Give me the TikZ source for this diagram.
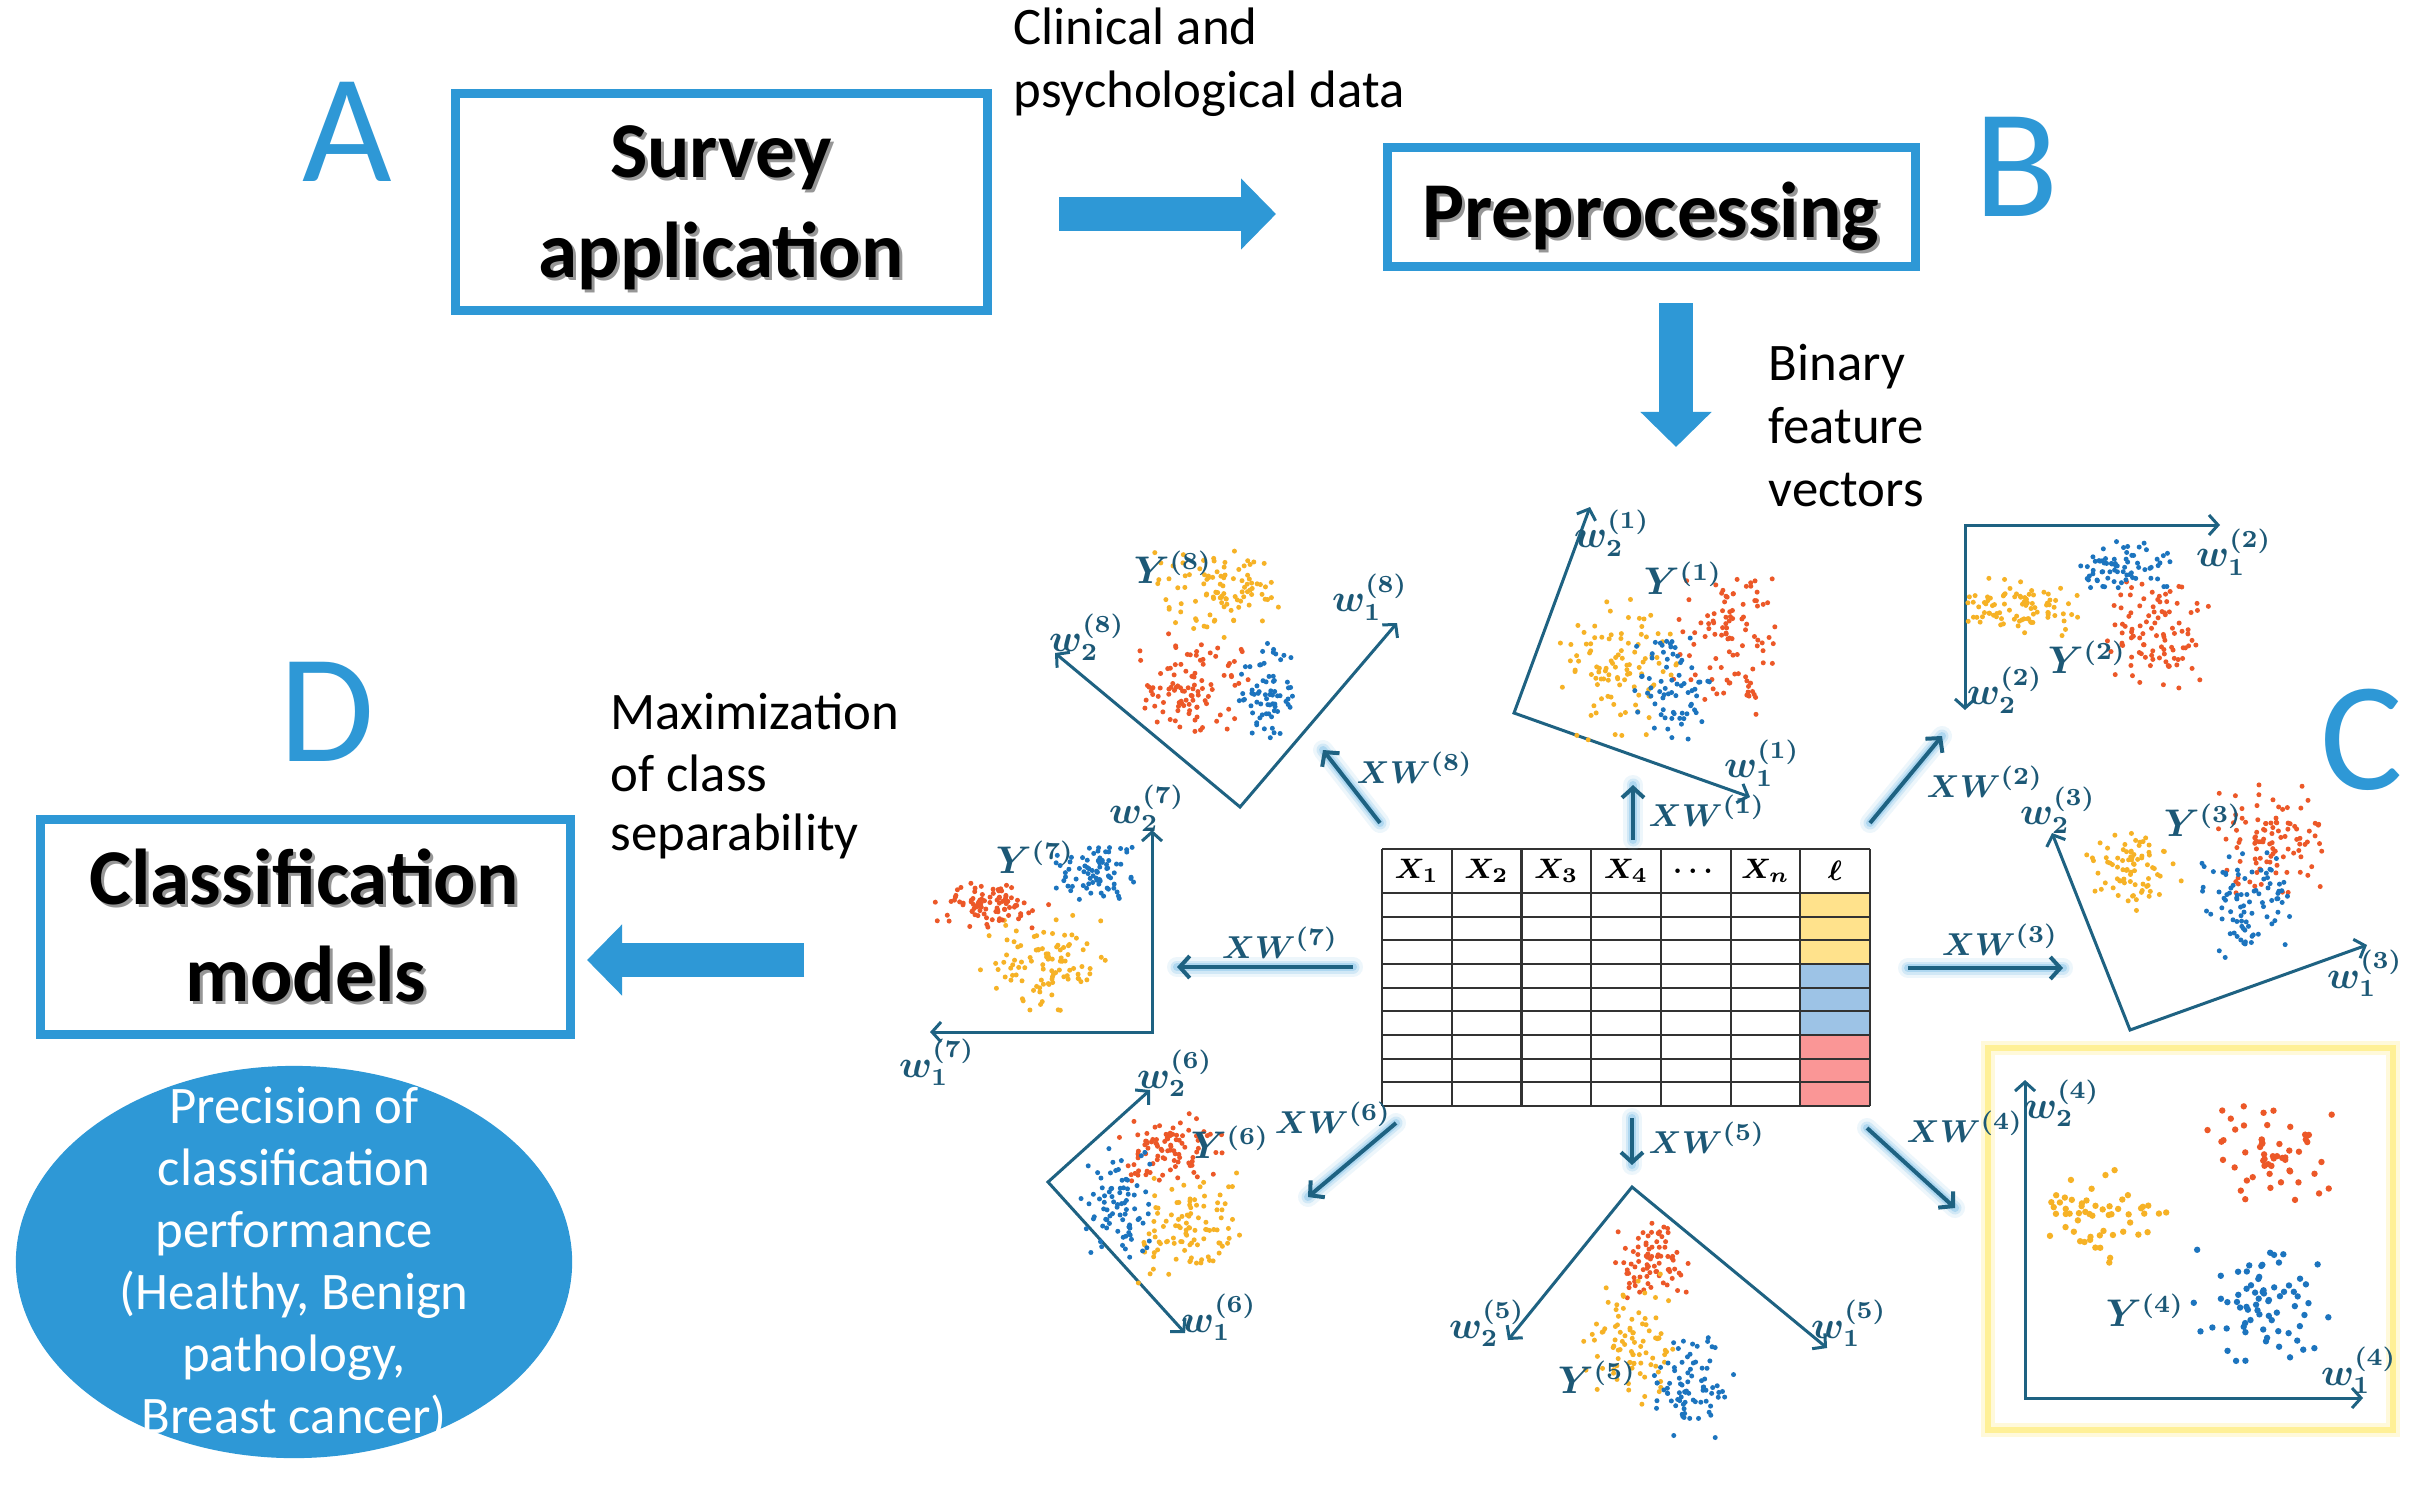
\documentclass[tikz,border=0pt]{standalone}
\usepackage{fontspec}
\setmainfont{Carlito}
\usepackage{amsmath}
\usetikzlibrary{arrows.meta,shapes.geometric,calc}
\definecolor{boxblue}{RGB}{46,152,214}
\definecolor{axcol}{RGB}{30,98,130}
\definecolor{labcol}{RGB}{28,88,118}
\definecolor{glowcol}{RGB}{110,185,230}
\definecolor{ptY}{RGB}{246,178,38}
\definecolor{ptR}{RGB}{236,88,40}
\definecolor{ptB}{RGB}{28,116,190}
\definecolor{cellY}{RGB}{255,226,140}
\definecolor{cellB}{RGB}{157,195,230}
\definecolor{cellR}{RGB}{250,150,150}
\definecolor{shadowgray}{RGB}{150,150,150}
\definecolor{hilite}{RGB}{255,240,150}
\definecolor{tabline}{RGB}{50,50,50}

\newcommand\mycloud[8]{%
 \foreach \i in {1,...,#2}{%
  \pgfmathsetmacro\dx{#5*1.25*(rand+rand)}%
  \pgfmathsetmacro\dy{#6*1.25*(rand+rand)+#7*\dx}%
  \fill[#1] ({#3+\dx},{#4+\dy}) circle[radius=#8];}}

\tikzset{
 titlebox/.style={draw=boxblue, line width=0.09cm, inner sep=0, rectangle},
 titletext/.style={font=\fontsize{22.5}{27}\selectfont\bfseries, inner sep=0},
 letter/.style={text=boxblue, font=\fontsize{44}{44}\selectfont, inner sep=0},
 plain/.style={font=\fontsize{15}{17.6}\selectfont, inner sep=0, anchor=base west},
 blockarrow/.style={draw=boxblue, line width=0.34cm, -{Triangle[length=0.35cm,width=0.69cm]}},
 axisline/.style={draw=axcol, line width=0.03cm, line join=miter,
   {Straight Barb[length=0.09cm,width=0.2cm]}-{Straight Barb[length=0.09cm,width=0.2cm]}},
 wlab/.style={text=labcol, font=\fontsize{10.5}{12}\selectfont\boldmath, inner sep=0},
 xwlab/.style={text=labcol, font=\fontsize{9.5}{11}\selectfont\boldmath, inner sep=0},
 xwarrow/.style={draw=axcol, line width=0.04cm, -{Straight Barb[length=0.1cm,width=0.22cm]}},
 hdr/.style={font=\fontsize{8.5}{10}\selectfont\boldmath, inner sep=0},
 tableline/.style={draw=tabline, line width=0.022cm}
}

\newcommand\glowarr[2]{%
 \draw[glowcol, line width=0.2cm, opacity=0.12, line cap=round] (#1) -- (#2);
 \draw[glowcol, line width=0.13cm, opacity=0.22, line cap=round] (#1) -- (#2);
 \draw[glowcol, line width=0.08cm, opacity=0.35, line cap=round] (#1) -- (#2);
 \draw[xwarrow] (#1) -- (#2);}

\newcommand\shtext[4]{%
 \node[titletext, text=shadowgray, anchor=base] (#1s) at ({#2+3},{#3+3}) {#4};
 \node[titletext, anchor=base] (#1) at (#2,#3) {#4};}

\begin{document}
\begin{tikzpicture}[x=0.01cm, y=-0.01cm]
\pgfmathsetseed{7}
\fill[white] (0,0) rectangle (2413,1485);
\useasboundingbox (0,0) rectangle (2413,1485);

% ---------- top row ----------
\node[letter] (A) at (347,132) {A};
\node[letter] (B) at (2017,167) {B};
\node[letter] (C) at (2362,740) {C};
\node[letter] (D) at (327,712) {D};

\node[titlebox, minimum width=5.32cm, minimum height=2.17cm] (survey) at (721.5,202) {};
\shtext{surv1}{721}{177}{Survey}
\shtext{surv2}{721}{277}{application}

\node[titlebox, minimum width=5.28cm, minimum height=1.19cm] (prep) at (1651.5,207) {};
\shtext{prept}{1651}{237}{Preprocessing}

\node[titlebox, minimum width=5.30cm, minimum height=2.15cm] (classif) at (305.5,927) {};
\shtext{cl1}{304}{904}{Classification}
\shtext{cl2}{306}{1001}{models}

\node[plain] (clin1) at (1013,45) {Clinical and};
\node[plain] (clin2) at (1013,107) {psychological data};
\node[plain] (bin1) at (1768,380) {Binary};
\node[plain] (bin2) at (1768,443) {feature};
\node[plain] (bin3) at (1768,506) {vectors};
\node[plain] (max1) at (610,729) {Maximization};
\node[plain] (max2) at (610,791) {of class};
\node[plain] (max3) at (610,850) {separability};

\coordinate (ab0) at (1059,214); \coordinate (ab1) at (1276,214);
\coordinate (bc0) at (1676,303); \coordinate (bc1) at (1676,447);
\coordinate (cd0) at (804,960);  \coordinate (cd1) at (587,960);
\draw[blockarrow] (ab0) -- (ab1);
\draw[blockarrow] (bc0) -- (bc1);
\draw[blockarrow] (cd0) -- (cd1);

\node[ellipse, fill=boxblue, minimum width=5.56cm, minimum height=3.92cm, inner sep=0] (ell) at (294,1262) {};
\node[text=white, align=center, font=\fontsize{15}{17.64}\selectfont, inner sep=0] (elltext) at (294,1264)
 {Precision of\\classification\\performance\\(Healthy, Benign\\pathology,\\Breast cancer)};

% ---------- table ----------
\node[minimum width=4.88cm, minimum height=2.57cm, inner sep=0] (tbl) at (1626,977.5) {};
\foreach \r/\c in {0/cellY,1/cellY,2/cellY,3/cellB,4/cellB,5/cellB,6/cellR,7/cellR,8/cellR}
  \fill[\c] (1800,{893+23.667*\r}) rectangle (1870,{893+23.667*(\r+1)});
\foreach \k in {0,...,7} \draw[tableline] ({1382+69.714*\k},849) -- ({1382+69.714*\k},1106);
\draw[tableline] (1382,849) -- (1870,849);
\foreach \k in {0,...,9} \draw[tableline] (1382,{893+23.667*\k}) -- (1870,{893+23.667*\k});
\foreach \k/\t in {0/X_1,1/X_2,2/X_3,3/X_4,4/\dots,5/X_n,6/\ell}
  \node[hdr] (h\k) at ({1382+69.714*(\k+0.5)},871) {$\t$};

% ---------- plot 1 ----------
\coordinate (o1) at (1514,713); \coordinate (a1) at (1750,797); \coordinate (b1) at (1590,507);
\draw[axisline] (a1) -- (o1) -- (b1);
\mycloud{ptY}{100}{1615}{665}{27}{33}{0}{0.025cm}
\mycloud{ptR}{100}{1727}{640}{25}{31}{0}{0.025cm}
\mycloud{ptB}{70}{1670}{690}{18}{27}{0}{0.025cm}
\node[wlab] (p1w2) at (1612,533) {$w_2^{(1)}$};
\node[wlab] (p1y) at (1683,578) {$Y^{(1)}$};
\node[wlab] (p1w1) at (1762,763) {$w_1^{(1)}$};

% ---------- plot 8 ----------
\coordinate (o8) at (1240,807); \coordinate (a8) at (1397,623); \coordinate (b8) at (1055,653);
\draw[axisline] (a8) -- (o8) -- (b8);
\mycloud{ptY}{100}{1220}{590}{30}{20}{0}{0.025cm}
\mycloud{ptR}{100}{1190}{688}{25}{23}{0}{0.025cm}
\mycloud{ptB}{70}{1265}{690}{12}{26}{0}{0.025cm}
\node[wlab] (p8w2) at (1087,637) {$w_2^{(8)}$};
\node[wlab] (p8y) at (1173,567) {$Y^{(8)}$};
\node[wlab] (p8w1) at (1370,597) {$w_1^{(8)}$};

% ---------- plot 2 ----------
\coordinate (o2) at (1965,525); \coordinate (a2) at (2220,525); \coordinate (b2) at (1965,710);
\draw[axisline] (a2) -- (o2) -- (b2);
\mycloud{ptY}{90}{2023}{607}{25}{13}{0}{0.025cm}
\mycloud{ptR}{100}{2160}{632}{23}{25}{0}{0.025cm}
\mycloud{ptB}{70}{2125}{568}{21}{12}{0}{0.025cm}
\node[wlab] (p2w1) at (2234,552) {$w_1^{(2)}$};
\node[wlab] (p2y) at (2087,657) {$Y^{(2)}$};
\node[wlab] (p2w2) at (2005,690) {$w_2^{(2)}$};

% ---------- plot 3 ----------
\coordinate (o3) at (2130,1030); \coordinate (a3) at (2367,945); \coordinate (b3) at (2052,833);
\draw[axisline] (a3) -- (o3) -- (b3);
\mycloud{ptY}{80}{2135}{870}{22}{17}{0}{0.025cm}
\mycloud{ptR}{100}{2270}{840}{23}{26}{0}{0.025cm}
\mycloud{ptB}{90}{2245}{905}{23}{23}{0}{0.025cm}
\node[wlab] (p3w2) at (2058,810) {$w_2^{(3)}$};
\node[wlab] (p3y) at (2203,820) {$Y^{(3)}$};
\node[wlab] (p3w1) at (2365,973) {$w_1^{(3)}$};

% ---------- plot 4 ----------
\draw[hilite, line width=0.14cm, opacity=0.35] (1988,1048) rectangle (2393,1430);
\node[draw=hilite, line width=0.06cm, minimum width=4.05cm, minimum height=3.82cm, inner sep=0] (hl) at (2190.5,1239) {};
\coordinate (o4) at (2025,1398); \coordinate (a4) at (2363,1398); \coordinate (b4) at (2025,1080);
\draw[axisline] (a4) -- (o4) -- (b4);
\mycloud{ptY}{55}{2103}{1215}{27}{22}{0}{0.032cm}
\mycloud{ptR}{55}{2272}{1150}{26}{21}{0}{0.032cm}
\mycloud{ptB}{70}{2262}{1305}{31}{29}{0}{0.032cm}
\node[wlab] (p4w2) at (2062,1103) {$w_2^{(4)}$};
\node[wlab] (p4y) at (2145,1310) {$Y^{(4)}$};
\node[wlab] (p4w1) at (2359,1370) {$w_1^{(4)}$};

% ---------- plot 5 ----------
\coordinate (o5) at (1632,1187); \coordinate (a5) at (1827,1348); \coordinate (b5) at (1508,1340);
\draw[axisline] (a5) -- (o5) -- (b5);
\mycloud{ptR}{80}{1653}{1262}{17}{17}{0}{0.025cm}
\mycloud{ptY}{90}{1630}{1340}{20}{29}{0}{0.025cm}
\mycloud{ptB}{80}{1692}{1385}{18}{25}{0}{0.025cm}
\node[wlab] (p5w2) at (1487,1323) {$w_2^{(5)}$};
\node[wlab] (p5y) at (1597,1377) {$Y^{(5)}$};
\node[wlab] (p5w1) at (1849,1323) {$w_1^{(5)}$};

% ---------- plot 6 ----------
\coordinate (o6) at (1048,1182); \coordinate (a6) at (1185,1333); \coordinate (b6) at (1150,1090);
\draw[axisline] (a6) -- (o6) -- (b6);
\mycloud{ptR}{90}{1172}{1150}{22}{16}{0}{0.025cm}
\mycloud{ptY}{100}{1190}{1228}{24}{23}{0}{0.025cm}
\mycloud{ptB}{80}{1120}{1205}{16}{24}{0}{0.025cm}
\node[wlab] (p6w2) at (1175,1073) {$w_2^{(6)}$};
\node[wlab] (p6y) at (1230,1142) {$Y^{(6)}$};
\node[wlab] (p6w1) at (1219,1317) {$w_1^{(6)}$};

% ---------- plot 7 ----------
\coordinate (o7) at (1152,1032); \coordinate (a7) at (930,1032); \coordinate (b7) at (1152,830);
\draw[axisline] (a7) -- (o7) -- (b7);
\mycloud{ptY}{100}{1040}{965}{27}{21}{0}{0.025cm}
\mycloud{ptR}{90}{990}{905}{25}{11}{0}{0.025cm}
\mycloud{ptB}{80}{1093}{872}{18}{13}{0}{0.025cm}
\node[wlab] (p7w2) at (1147,808) {$w_2^{(7)}$};
\node[wlab] (p7y) at (1035,857) {$Y^{(7)}$};
\node[wlab] (p7w1) at (937,1062) {$w_1^{(7)}$};

% ---------- XW arrows ----------
\coordinate (s1) at (1633,840); \coordinate (e1) at (1633,785);
\coordinate (s2) at (1870,823); \coordinate (e2) at (1942,736);
\coordinate (s3) at (1908,968); \coordinate (e3) at (2063,968);
\coordinate (s4) at (1867,1128); \coordinate (e4) at (1955,1208);
\coordinate (s5) at (1632,1118); \coordinate (e5) at (1632,1165);
\coordinate (s6) at (1396,1123); \coordinate (e6) at (1308,1197);
\coordinate (s7) at (1353,967); \coordinate (e7) at (1177,967);
\coordinate (s8) at (1380,823); \coordinate (e8) at (1323,750);
\foreach \k in {1,...,8} {\glowarr{s\k}{e\k}}

\node[xwlab, anchor=west] (xw1) at (1648,811) {$XW^{(1)}$};
\node[xwlab, anchor=west] (xw2) at (1926,782) {$XW^{(2)}$};
\node[xwlab] (xw3) at (2000,940) {$XW^{(3)}$};
\node[xwlab, anchor=west] (xw4) at (1906,1127) {$XW^{(4)}$};
\node[xwlab, anchor=west] (xw5) at (1648,1138) {$XW^{(5)}$};
\node[xwlab, anchor=east] (xw6) at (1392,1118) {$XW^{(6)}$};
\node[xwlab] (xw7) at (1280,943) {$XW^{(7)}$};
\node[xwlab, anchor=west] (xw8) at (1356,768) {$XW^{(8)}$};
\end{tikzpicture}
\end{document}
